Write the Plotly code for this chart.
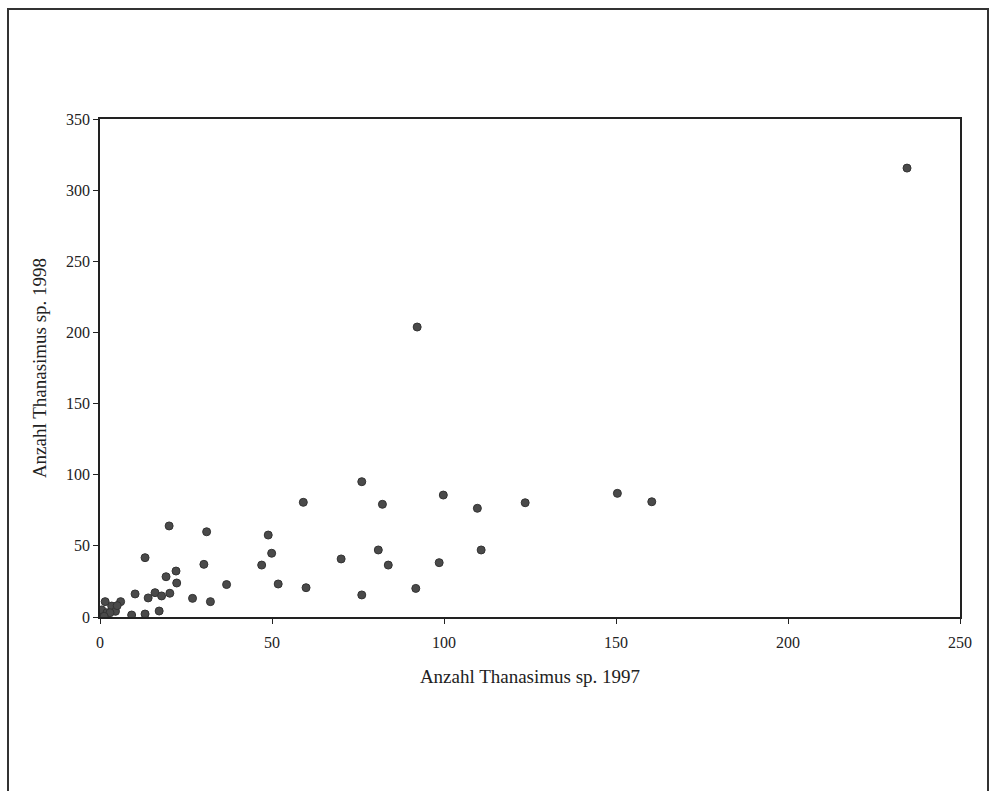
import plotly.graph_objects as go

x_1997 = [234.6, 92.2, 76.1, 150.4, 99.8, 59.1, 160.4, 123.6, 82.1, 109.7,
          20.1, 31.0, 48.9, 13.1, 49.9, 80.9, 110.8, 70.1, 83.8, 30.2,
          47.0, 98.6, 22.1, 19.2, 22.3, 36.8, 51.8, 59.9, 91.8, 76.1,
          10.2, 14.0, 16.0, 17.9, 20.3, 26.9, 32.1, 13.1, 17.2, 9.2,
          0.0, 1.0, 0.5, 2.0, 1.5, 3.4, 4.5, 6.0, 2.9, 5.0, 1.2]
y_1998 = [315.5, 203.8, 95.1, 86.9, 85.7, 80.6, 81.0, 80.3, 79.2, 76.4,
          64.0, 59.9, 57.6, 41.7, 44.8, 47.1, 47.1, 40.8, 36.5, 37.0,
          36.5, 38.2, 32.3, 28.3, 23.9, 22.8, 23.2, 20.6, 20.1, 15.5,
          16.2, 13.4, 17.1, 14.8, 16.7, 13.1, 10.8, 2.1, 4.2, 1.4,
          0.0, 2.0, 5.0, 3.0, 10.8, 7.7, 4.0, 10.8, 3.0, 8.0, 0.5]

x_ticks = [0, 50, 100, 150, 200, 250]
y_ticks = [0, 50, 100, 150, 200, 250, 300, 350]

fig = go.Figure()
fig.add_trace(go.Scatter(
    x=x_1997, y=y_1998, mode="markers",
    marker=dict(symbol="circle", size=8, color="#4a4a4a",
                line=dict(width=1, color="#333333")),
    showlegend=False, hoverinfo="x+y",
))

axis_common = dict(
    showgrid=False, zeroline=False, showline=True, linecolor="#222",
    linewidth=1.5, mirror=True, ticks="outside", ticklen=5, tickcolor="#222",
    tickfont=dict(family="Liberation Serif", size=16, color="#222"),
)

fig.update_layout(
    width=991, height=791,
    margin=dict(l=100, r=31, t=119, b=174),
    paper_bgcolor="white", plot_bgcolor="white",
    font=dict(family="Liberation Serif", color="#222"),
    xaxis=dict(range=[0, 250], tickvals=x_ticks, ticklabelstandoff=5,
               title=dict(text="Anzahl Thanasimus sp. 1997",
                          font=dict(family="Liberation Serif", size=19, color="#222"),
                          standoff=20),
               **axis_common),
    yaxis=dict(range=[0, 350], tickvals=y_ticks,
               title=dict(text="Anzahl Thanasimus sp. 1998",
                          font=dict(family="Liberation Serif", size=19, color="#222"),
                          standoff=14),
               **axis_common),
    shapes=[dict(type="rect", xref="paper", yref="paper",
                 x0=-92 / 860, x1=1 + 28 / 860, y0=-180 / 498, y1=1 + 110 / 498,
                 line=dict(color="#333", width=2), fillcolor="rgba(0,0,0,0)",
                 layer="below")],
)

fig.write_html("out.html")
